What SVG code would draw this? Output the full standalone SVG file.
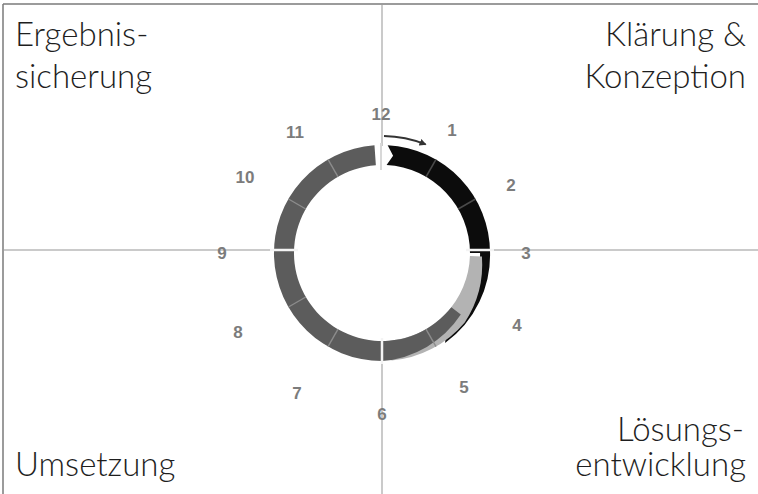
<svg xmlns="http://www.w3.org/2000/svg" width="758" height="494" viewBox="0 0 758 494">
<style>
.corner{font-family:Lato,"Open Sans","Liberation Sans",sans-serif;font-size:33px;font-weight:300;fill:#1e1e1e}
.num{font-family:"Liberation Sans",Arial,sans-serif;font-size:17px;font-weight:bold;fill:#7c7c7c;text-anchor:middle}
.axis{stroke:#cacaca;stroke-width:2;fill:none}
.gap{stroke:#f4f4f4;stroke-width:2.5;fill:none}
.sepd{stroke:#4a4a4a;stroke-width:1.6}
.sepg{stroke:#8c8c8c;stroke-width:1.4}
</style>
<defs>
<marker id="ah" markerWidth="8" markerHeight="8" refX="6" refY="4" orient="auto" markerUnits="userSpaceOnUse">
<path d="M0,0.5 L7,4 L0,7.5 Z" fill="#333"/>
</marker>
</defs>
<rect x="0" y="0" width="758" height="494" fill="#ffffff"/>
<g id="frame">
<line x1="3" y1="4" x2="758" y2="4" stroke="#7a7a7a" stroke-width="1.5"/>
<line x1="3" y1="4" x2="3" y2="494" stroke="#7a7a7a" stroke-width="1.5"/>
</g>
<g id="connectors">
<line class="axis" x1="4" y1="250" x2="276" y2="250"/>
<line class="axis" x1="488" y1="250" x2="758" y2="250"/>
<line class="axis" x1="382" y1="5" x2="382" y2="146"/>
<line class="axis" x1="382" y1="359" x2="382" y2="494"/>
</g>
<g id="ring">
<path id="seg-black-taper" d="M489.93,249.23 A109 109 0 0 1 445.09,343.11 L446.28,329.6 A100 100 0 0 0 479.94,249.58 Z" fill="#0c0c0c"/>
<path id="seg-light" d="M481.94,256.49 A106 106 0 0 1 464.73,322.42 A108 108 0 0 1 391.41,360.59 L389.67,340.66 A88 88 0 0 0 469.95,256.07 Z" fill="#b3b3b3"/>
<path id="seg-mid" d="M460.8,314.57 A104 104 0 0 1 382,361 A108 108 0 0 1 374.47,145.26 L375.86,165.21 A88 88 0 1 0 451.34,307.18 Z" fill="#5c5c5c"/>
<path id="seg-black" d="M387.65,145.15 A108 108 0 0 1 490,253 L470,253 A88 88 0 0 0 386.6,165.12 L393.09,155.63 Z" fill="#0c0c0c"/>
<line class="sepd" x1="426" y1="176.79" x2="436" y2="159.47"/>
<line class="sepd" x1="458.21" y1="209" x2="475.53" y2="199"/>
<line class="sepg" x1="426" y1="329.21" x2="436" y2="346.53"/>
<line class="sepg" x1="338" y1="329.21" x2="328" y2="346.53"/>
<line class="sepg" x1="305.79" y1="297" x2="288.47" y2="307"/>
<line class="sepg" x1="305.79" y1="209" x2="288.47" y2="199"/>
<line class="sepg" x1="338" y1="176.79" x2="328" y2="159.47"/>
<line class="gap" x1="466" y1="250" x2="494" y2="250"/>
<line class="gap" x1="270" y1="250" x2="298" y2="250"/>
<line class="gap" x1="382" y1="338" x2="382" y2="364"/>
<line x1="381" y1="143" x2="381" y2="170" stroke="#d8d8d8" stroke-width="2"/>
<path d="M384,136 A117 117 0 0 1 425.6,144.4" fill="none" stroke="#333" stroke-width="1.8" marker-end="url(#ah)"/>
</g>
<g id="numbers">
<text class="num" x="381" y="120">12</text>
<text class="num" x="452" y="136">1</text>
<text class="num" x="511" y="191">2</text>
<text class="num" x="526" y="259">3</text>
<text class="num" x="517" y="331">4</text>
<text class="num" x="464" y="393">5</text>
<text class="num" x="382" y="420">6</text>
<text class="num" x="297" y="399">7</text>
<text class="num" x="238" y="338">8</text>
<text class="num" x="222" y="259">9</text>
<text class="num" x="245" y="183">10</text>
<text class="num" x="295" y="138">11</text>
</g>
<g id="label-ergebnissicherung">
<text class="corner" x="15" y="46">Ergebnis-</text>
<text class="corner" x="15" y="88">sicherung</text>
</g>
<g id="label-klaerung">
<text class="corner" x="746" y="46" text-anchor="end">Klärung &amp;</text>
<text class="corner" x="746" y="88" text-anchor="end">Konzeption</text>
</g>
<g id="label-loesungsentwicklung">
<text class="corner" x="744" y="441" text-anchor="end">Lösungs-</text>
<text class="corner" x="746" y="476" text-anchor="end">entwicklung</text>
</g>
<g id="label-umsetzung">
<text class="corner" x="15" y="476">Umsetzung</text>
</g>
</svg>
